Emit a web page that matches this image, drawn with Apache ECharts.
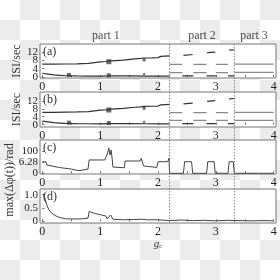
<!DOCTYPE html>
<html><head><meta charset="utf-8">
<script src="https://cdn.jsdelivr.net/npm/echarts@6/dist/echarts.min.js"></script>
<style>
html,body{margin:0;padding:0;}
body{width:280px;height:280px;background:repeating-conic-gradient(#ececec 0% 25%, #ffffff 0% 50%) 0 0/40px 40px;}
#c{width:280px;height:280px;}
</style></head><body><div id="c"></div>
<script>
// ---------- data ----------
const xTicks = [0, 1, 2, 3, 4];
const isiTicks = [0, 4, 8, 12];
const isiTickLabels = ['0', '4', '8', '12'];
const cTickValues = [0, 6.28, 100];
const cTickLabels = ['0', '6.28', '100'];
const dTicks = [0, 0.5, 1.0];
const dTickLabels = ['0', '0.5', '1.0'];
const partNames = ['part 1', 'part 2', 'part 3'];
const partCenters = [1.1, 2.76, 3.66];
const partBounds = [2.2, 3.32];

// panel (a)/(b): ISI, part 1
const gUp1 = [0, 0.2, 0.4, 0.6, 0.8, 0.82, 1.0, 1.1, 1.2, 1.22, 1.4, 1.42, 1.6, 1.7, 1.75, 1.9, 2.0, 2.05, 2.2];
const vUp1 = [6.2, 6.2, 6.3, 6.4, 6.6, 7.0, 7.3, 7.5, 7.8, 8.0, 8.2, 8.6, 8.8, 9.0, 9.2, 9.3, 9.4, 10.0, 10.2];
const gLo1 = [0, 0.1, 0.2, 0.3, 0.4, 0.6, 0.8, 1.0, 1.2, 1.5, 1.8, 2.0, 2.2];
const vLo1 = [1.8, 1.4, 1.0, 0.8, 0.6, 0.5, 0.45, 0.4, 0.5, 0.5, 0.45, 0.4, 0.4];
// part 2/3 grey branches
const gGrey = [2.2, 2.42, null, 2.61, 2.84, null, 3.0, 3.21, null, 3.32, 4.0];
const vGreyHi = [6.1, 6.1, null, 6.1, 6.1, null, 6.1, 6.1, null, 6.2, 6.2];
const vGreyLo = [2.1, 2.1, null, 2.1, 2.1, null, 2.1, 2.1, null, 2.2, 2.2];
// part 2 windows (black)
const gWinUp = [2.44, 2.6, null, 2.85, 2.99, null, 3.23, 3.32];
const vWinUp = [10.5, 10.9, null, 11.8, 12.1, null, 13.0, 13.2];
const gWinLo = [2.42, 2.61, null, 2.84, 3.0, null, 3.21, 3.32];
const vWinLo = [0.5, 0.5, null, 0.5, 0.5, null, 0.5, 0.5];
// clusters of points
const gBlob = [0.46, 1.15, 1.15, 1.76, 1.76];
const vBlob = [1.0, 7.4, 0.8, 8.3, 1.4];
const sBlob = [4, 5, 4, 3, 2];

// panel (c)
const gC = [0, 0.02, 0.06, 0.08, 0.1, 0.3, 0.5, 0.6, 0.62, 0.65, 0.79, 0.81, 1.08, 1.1, 1.13, 1.15, 1.17, 1.19, 1.21, 1.22, 1.42, 1.43, 1.69, 1.71, 1.74, 1.75, 1.98, 2.0, 2.17, 2.19, 2.2, 2.44, 2.46, 2.58, 2.6, 2.84, 2.86, 2.97, 2.99, 3.21, 3.23, 3.30, 3.32, 4.0];
const vC = [5.7, 6.28, 6.4, 4.5, 3.95, 3.1, 2.3, 1.6, 2.0, 1.5, 2.3, 9.8, 9.8, 16, 60, 218, 36, 128, 9.8, 3.4, 3.0, 7.5, 7.5, 15, 15, 3.95, 3.2, 6.28, 6.28, 16, 0, 0, 6.28, 6.28, 0, 0, 6.28, 6.28, 0, 0, 6.28, 6.28, 0, 0];

// panel (d)
const gD = [0.02, 0.04, 0.07, 0.1, 0.13, 0.17, 0.22, 0.28, 0.33, 0.4, 0.48, 0.6, 0.7, 0.79, 0.81, 0.9, 1.0, 1.1, 1.12, 1.15, 1.18, 1.2, 1.22, 1.25, 1.4, 1.6, 1.72, 1.75, 1.8, 2.0, 2.2, 2.4, 2.6, 2.8, 3.0, 3.2, 3.4, 3.6, 3.8, 4.0];
const vD = [1.0, 0.9, 0.65, 0.5, 0.38, 0.3, 0.22, 0.16, 0.13, 0.1, 0.09, 0.09, 0.1, 0.12, 0.37, 0.3, 0.25, 0.2, 0.09, 0.1, 0.24, 0.22, 0.08, 0.06, 0.06, 0.07, 0.08, 0.12, 0.06, 0.06, 0.03, 0.05, 0.03, 0.04, 0.02, 0.04, 0.03, 0.02, 0.03, 0.02];

// ---------- build ----------
const FONT = 'Liberation Serif';
const zip = (g, v) => g.map((x, i) => (x === null || v[i] === null) ? [null, null] : [x, v[i]]);
const T = v => v <= 6.28 ? v / 6.28 : 1 + 0.92 * Math.log10(v / 6.28) / Math.log10(100 / 6.28);

const grids = [
  {left: 40, top: 44, width: 236, height: 34},
  {left: 40, top: 92, width: 236, height: 35},
  {left: 40, top: 140, width: 236, height: 34},
  {left: 40, top: 189, width: 236, height: 34}
].map(g => Object.assign(g, {show: true, backgroundColor: '#ffffff', borderColor: '#777', borderWidth: 1}));

const xAxes = grids.map((g, i) => ({
  type: 'value', gridIndex: i, min: -0.04, max: 4.04,
  axisLine: {show: false},
  axisTick: {show: true, inside: true, length: 2, customValues: [0,0.5,1,1.5,2,2.5,3,3.5,4], lineStyle: {color: '#666'}},
  axisLabel: {customValues: xTicks, fontFamily: FONT, fontSize: 12, color: '#222', margin: 3, hideOverlap: false},
  splitLine: {show: false},
  name: i === 3 ? '{i|g}{s|c}' : '',
  nameLocation: 'middle', nameGap: 14,
  nameTextStyle: {rich: {i: {fontFamily: FONT, fontStyle: 'italic', fontSize: 11, color: '#333'}, s: {fontFamily: FONT, fontStyle: 'italic', fontSize: 7, color: '#333', verticalAlign: 'bottom', padding: [4,0,0,0]}}}
}));

const yTick = {show: true, inside: true, length: 2, lineStyle: {color: '#666'}};
const yName = {nameLocation: 'middle', nameGap: 17, nameTextStyle: {fontFamily: FONT, fontSize: 12, color: '#333'}};
const yDefs = [
  {min: -0.5, max: 16, ticks: isiTicks, labels: isiTickLabels, map: x => x, name: 'ISI/sec'},
  {min: -1.2, max: 16.5, ticks: isiTicks, labels: isiTickLabels, map: x => x, name: 'ISI/sec'},
  {min: -0.06, max: 2.87, ticks: cTickValues, labels: cTickLabels, map: T, name: ''},
  {min: -0.06, max: 1.21, ticks: dTicks, labels: dTickLabels, map: x => x, name: ''}
];
const yAxes = yDefs.map((d, i) => Object.assign({}, yName, {
  type: 'value', gridIndex: i, min: d.min, max: d.max, name: d.name,
  axisLine: {show: false}, splitLine: {show: false},
  axisTick: Object.assign({customValues: d.ticks.map(d.map)}, yTick),
  axisLabel: {show: false}
}));

function line(idx, g, v, color, w) {
  return {type: 'line', xAxisIndex: idx, yAxisIndex: idx, data: zip(g, v), showSymbol: false, symbol: 'none',
    connectNulls: false, lineStyle: {color: color, width: w}, silent: true, animation: false, clip: true};
}
const series = [];
[0, 1].forEach(i => {
  series.push(line(i, gUp1, vUp1, '#333', 1.2));
  series.push(line(i, gLo1, vLo1, '#333', 1.2));
  series.push(line(i, gGrey, vGreyHi, '#8a8a8a', 1.2));
  series.push(line(i, gGrey, vGreyLo, '#8a8a8a', 1.2));
  series.push(line(i, gWinUp, vWinUp, '#333', 1.2));
  series.push(line(i, gWinLo, vWinLo, '#333', 1.2));
  series.push({type: 'scatter', xAxisIndex: i, yAxisIndex: i, symbol: 'rect', animation: false, silent: true,
    data: gBlob.map((x, k) => ({value: [x, vBlob[k]], symbolSize: sBlob[k]})), itemStyle: {color: '#444'}});
});
series.push(line(2, gC, vC.map(T), '#444', 1));
series.push(line(3, gD, vD, '#444', 1));
// part labels above panel (a)
series.push({type: 'scatter', xAxisIndex: 0, yAxisIndex: 0, symbolSize: 0, animation: false, silent: true,
  data: partCenters.map((x, k) => ({value: [x, 16], name: partNames[k]})),
  label: {show: true, position: 'top', distance: 2, formatter: p => p.name, fontFamily: FONT, fontSize: 12, color: '#222'}});

const chart = echarts.init(document.getElementById('c'), null, {renderer: 'canvas'});
chart.setOption({
  backgroundColor: 'transparent', animation: false,
  grid: grids, xAxis: xAxes, yAxis: yAxes, series: series
});

// y tick labels, panel letters, shared y-name, dashed part boundaries
const gr = [];
yDefs.forEach((d, i) => {
  d.ticks.forEach((t, k) => {
    const py = chart.convertToPixel({yAxisIndex: i}, d.map(t));
    gr.push({type: 'text', x: grids[i].left - 2, y: py,
      style: {text: d.labels[k], font: '11px "' + FONT + '"', fill: '#222', align: 'right', verticalAlign: 'middle'}});
  });
});
const letters = ['(a)', '(b)', '(c)', '(d)'];
letters.forEach((t, i) => gr.push({type: 'text', x: grids[i].left + 3, y: grids[i].top + 2,
  style: {text: t, font: '12px "' + FONT + '"', fill: '#333'}, z: 10}));
gr.push({type: 'text', x: 10, y: 180, rotation: Math.PI / 2, style: {text: 'max(Δφ(t))/rad', font: '12px "' + FONT + '"', fill: '#333', align: 'center', verticalAlign: 'middle'}});
partBounds.forEach(b => {
  const px = chart.convertToPixel({xAxisIndex: 0}, b);
  gr.push({type: 'line', shape: {x1: px, y1: grids[0].top, x2: px, y2: grids[3].top + grids[3].height},
    style: {stroke: '#666', lineWidth: 0.8, lineDash: [1.5, 1.5]}, z: 5});
});
chart.setOption({graphic: gr});
</script></body></html>
